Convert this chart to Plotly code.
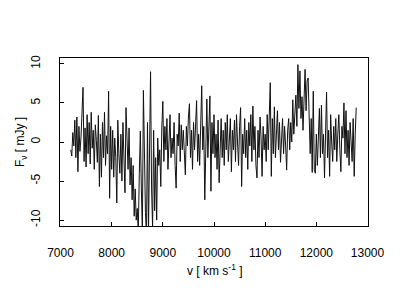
import plotly.graph_objects as go

# channel velocities (km/s), 20 km/s spacing starting at 7200
v_start = 7200
v_step = 20

flux = [
    # 7200-7380
    -1.0, -1.8, 1.2, -0.5, 2.8, -2.0, 3.2, -3.8, 2.0, -1.2,
    # 7400-7580
    0.5, 3.0, 7.0, -2.5, 1.8, -3.2, 3.5, -1.5, 2.5, -2.8,
    # 7600-7780
    3.8, -0.8, 1.5, -3.5, 2.2, 0.2, -2.6, 3.4, -5.7, 1.0,
    # 7800-7980
    -4.5, 2.5, -2.0, 3.8, -3.0, 0.8, -1.5, 6.5, -7.2, 2.0,
    # 8000-8180
    -3.5, 1.5, -4.5, 0.5, -2.0, -7.8, 2.8, -1.5, -4.0, 1.0,
    # 8200-8380
    -5.0, 2.5, -2.0, -6.5, 4.4, -1.5, -3.5, 1.8, -5.5, -2.0,
    # 8400-8580
    -7.4, -3.0, -9.5, -6.0, -10.0, -8.5, -11.5, -4.0, 1.4, -6.0,
    # 8600-8780
    -11.5, 6.6, -3.0, -9.0, -12.0, 2.5, -11.5, -2.0, 9.0, -6.0,
    # 8800-8980
    -11.0, 1.5, -8.8, -2.0, -10.0, 0.5, -3.0, -1.0, -5.7, 1.8,
    # 9000-9180
    5.2, -2.5, 2.0, -1.0, 3.0, -3.5, 1.0, 3.5, -2.0, 0.5,
    # 9200-9380
    -1.5, 2.5, -3.0, -5.9, 1.0, -0.5, 3.7, -2.5, 2.2, -1.0,
    # 9400-9580
    1.5, -2.8, -4.2, 2.0, -0.5, 3.2, 4.9, -2.0, 1.5, -3.5,
    # 9600-9780
    2.5, -1.0, 3.5, 5.3, -2.5, 1.0, -3.0, 4.0, 7.2, -1.0,
    # 9800-9980
    2.0, -7.4, 1.5, 5.5, -2.0, 3.0, 5.9, -6.3, 2.5, -1.5,
    # 10000-10180
    3.5, -2.0, 1.0, -3.5, 2.8, -5.2, 0.5, 3.0, -2.0, 1.5,
    # 10200-10380
    -3.0, 2.5, -1.0, 3.5, -2.5, 0.8, 3.0, -3.8, 1.5, -1.0,
    # 10400-10580
    2.8, -2.5, 3.5, 0.0, -3.0, 2.0, 4.4, -5.7, 1.0, -1.5,
    # 10600-10780
    3.0, -2.0, 1.5, -3.5, 2.5, -0.5, 3.5, -2.5, 4.6, -1.0,
    # 10800-10980
    2.0, -3.0, -4.6, 1.5, -2.0, 3.2, 0.5, -4.4, 2.0, -1.0,
    # 11000-11180
    1.0, -2.5, 3.5, -1.0, 2.5, 7.6, -4.4, 3.0, -1.5, 4.5,
    # 11200-11380
    -2.0, 1.5, 4.0, -1.0, 2.5, -2.6, 1.0, 3.0, -1.5, 2.0,
    # 11400-11580
    -0.5, -3.6, 1.5, 3.0, -1.0, 2.5, 0.0, 5.4, 1.0, 3.5,
    # 11600-11780
    6.0, 2.0, 9.9, 4.3, 9.1, 3.0, 5.8, 1.5, 7.0, 9.3,
    # 11800-11980
    4.0, 7.8, 8.2, 2.0, -1.5, 3.0, -3.9, 6.5, -3.5, -4.0,
    # 12000-12180
    1.0, -3.0, 2.0, 4.3, -2.0, 4.7, -1.5, 1.0, -4.6, 2.5,
    # 12200-12380
    6.4, -2.0, 1.5, -4.4, 3.5, 0.0, -2.5, 2.0, -1.0, 3.0,
    # 12400-12580
    -2.5, 1.0, 3.5, -1.0, -3.8, 2.0, 0.5, 5.0, -1.5, 4.0,
    # 12600-12780
    -2.0, 1.5, -3.0, 2.5, 0.0, -2.5, 3.0, -4.4, 1.0, 4.4,
]
velocity = [v_start + v_step * i for i in range(len(flux))]

x_ticks = [7000, 8000, 9000, 10000, 11000, 12000, 13000]
y_ticks = [-10, -5, 0, 5, 10]

font_family = "Liberation Sans, Arial, sans-serif"

fig = go.Figure()
fig.add_trace(go.Scatter(x=velocity, y=flux, mode="lines",
                         line=dict(color="#111111", width=1),
                         showlegend=False, hoverinfo="skip"))

axis_common = dict(showline=True, linecolor="black", linewidth=1, mirror=True,
                   ticks="inside", ticklen=4, tickcolor="black", tickwidth=1,
                   showgrid=False, zeroline=False,
                   tickfont=dict(family=font_family, size=12, color="black"))

fig.update_xaxes(range=[6990, 13010], tickvals=x_ticks,
                 ticktext=[str(t) for t in x_ticks], ticklabelstandoff=16,
                 **axis_common)
fig.update_yaxes(range=[-10.75, 10.75], tickvals=y_ticks,
                 ticktext=[str(t) for t in y_ticks], tickangle=-90,
                 ticklabelstandoff=14, **axis_common)

fig.update_layout(
    width=400, height=300,
    margin=dict(l=60, r=32, t=58, b=74),
    paper_bgcolor="white", plot_bgcolor="white",
    font=dict(family=font_family, size=12, color="black"),
    annotations=[
        dict(text="F<sub>ν</sub> [ mJy ]", xref="paper", yref="paper",
             x=0, y=0.5, xanchor="center", yanchor="middle",
             xshift=-39, textangle=-90, showarrow=False,
             font=dict(family=font_family, size=12, color="black")),
        dict(text="v [ km s<sup>-1</sup> ]", xref="paper", yref="paper",
             x=0.5, y=0, xanchor="center", yanchor="middle",
             yshift=-44, showarrow=False,
             font=dict(family=font_family, size=12, color="black")),
    ],
)

fig.write_html("out.html")
